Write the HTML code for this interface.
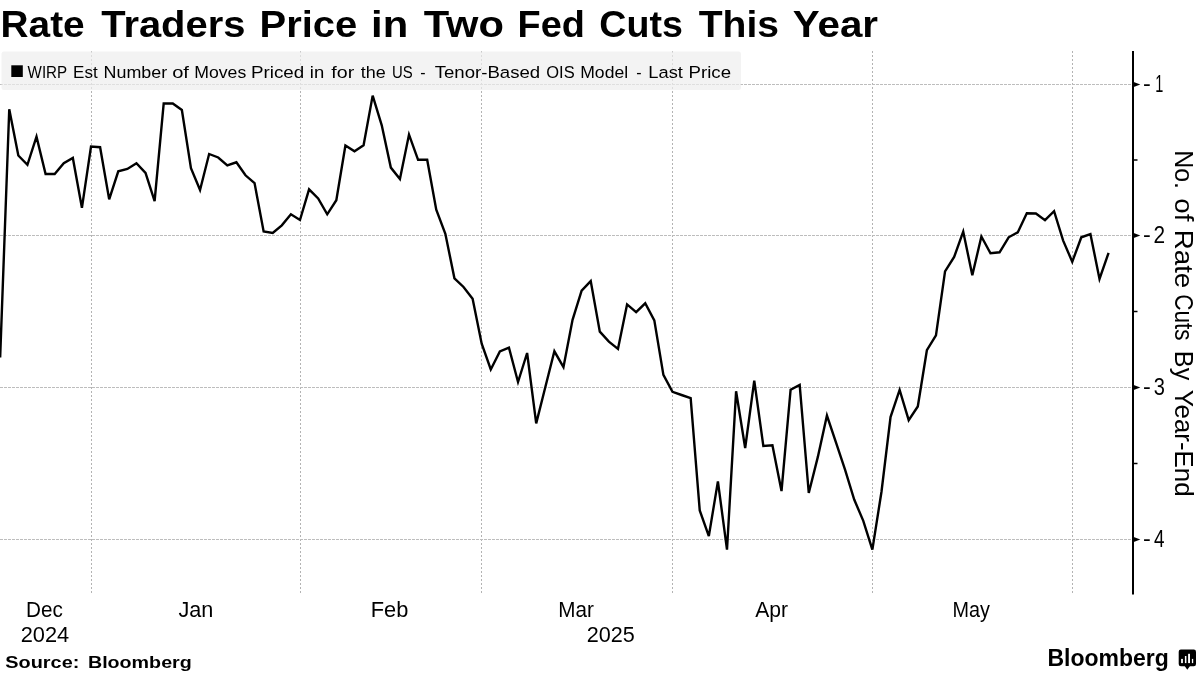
<!DOCTYPE html>
<html><head><meta charset="utf-8"><style>
html,body{margin:0;padding:0;background:#fff;}
svg{display:block;font-family:"Liberation Sans", sans-serif;fill:#000;will-change:transform;}
</style></head><body>
<svg width="1200" height="675" viewBox="0 0 1200 675">
<line x1="91.5" y1="51" x2="91.5" y2="594" stroke="#b3b3b3" stroke-width="1" stroke-dasharray="2,2"/>
<line x1="300.5" y1="51" x2="300.5" y2="594" stroke="#b3b3b3" stroke-width="1" stroke-dasharray="2,2"/>
<line x1="481.5" y1="51" x2="481.5" y2="594" stroke="#b3b3b3" stroke-width="1" stroke-dasharray="2,2"/>
<line x1="672.5" y1="51" x2="672.5" y2="594" stroke="#b3b3b3" stroke-width="1" stroke-dasharray="2,2"/>
<line x1="872.5" y1="51" x2="872.5" y2="594" stroke="#b3b3b3" stroke-width="1" stroke-dasharray="2,2"/>
<line x1="1072.5" y1="51" x2="1072.5" y2="594" stroke="#b3b3b3" stroke-width="1" stroke-dasharray="2,2"/>
<line x1="0" y1="84.5" x2="1132" y2="84.5" stroke="#bdbdbd" stroke-width="1" stroke-dasharray="3,1"/>
<line x1="0" y1="235.5" x2="1132" y2="235.5" stroke="#bdbdbd" stroke-width="1" stroke-dasharray="3,1"/>
<line x1="0" y1="387.5" x2="1132" y2="387.5" stroke="#bdbdbd" stroke-width="1" stroke-dasharray="3,1"/>
<line x1="0" y1="539.5" x2="1132" y2="539.5" stroke="#bdbdbd" stroke-width="1" stroke-dasharray="3,1"/>
<rect x="1.5" y="51.5" width="739.5" height="38.5" rx="2.5" fill="#eee" fill-opacity="0.7"/>
<line x1="1133" y1="51" x2="1133" y2="594.5" stroke="#000" stroke-width="2"/>
<path d="M1133 81.8 L1140.3 84.5 L1133 87.2 Z" fill="#000"/>
<path d="M1133 232.8 L1140.3 235.5 L1133 238.2 Z" fill="#000"/>
<path d="M1133 384.8 L1140.3 387.5 L1133 390.2 Z" fill="#000"/>
<path d="M1133 536.8 L1140.3 539.5 L1133 542.2 Z" fill="#000"/>
<line x1="1133" y1="160.0" x2="1137.5" y2="160.0" stroke="#000" stroke-width="1.5"/>
<line x1="1133" y1="311.5" x2="1137.5" y2="311.5" stroke="#000" stroke-width="1.5"/>
<line x1="1133" y1="463.5" x2="1137.5" y2="463.5" stroke="#000" stroke-width="1.5"/>
<text x="1143.09" y="90.9" font-size="22" textLength="7.79" lengthAdjust="spacingAndGlyphs">-</text>
<text x="1155.24" y="91.7" font-size="23.2" textLength="8.05" lengthAdjust="spacingAndGlyphs">1</text>
<text x="1143.09" y="241.9" font-size="22" textLength="7.79" lengthAdjust="spacingAndGlyphs">-</text>
<text x="1153.51" y="242.7" font-size="23.2" textLength="11.58" lengthAdjust="spacingAndGlyphs">2</text>
<text x="1143.09" y="393.9" font-size="22" textLength="7.79" lengthAdjust="spacingAndGlyphs">-</text>
<text x="1153.81" y="394.7" font-size="23.2" textLength="11.16" lengthAdjust="spacingAndGlyphs">3</text>
<text x="1143.09" y="545.9" font-size="22" textLength="7.79" lengthAdjust="spacingAndGlyphs">-</text>
<text x="1154.09" y="546.7" font-size="23.2" textLength="10.50" lengthAdjust="spacingAndGlyphs">4</text>
<text transform="translate(1174.6,150.15) rotate(90)" font-size="26.5" textLength="38.91" lengthAdjust="spacingAndGlyphs">No.</text>
<text transform="translate(1174.6,198.34) rotate(90)" font-size="26.5" textLength="22.97" lengthAdjust="spacingAndGlyphs">of</text>
<text transform="translate(1174.6,229.63) rotate(90)" font-size="26.5" textLength="58.70" lengthAdjust="spacingAndGlyphs">Rate</text>
<text transform="translate(1174.6,294.15) rotate(90)" font-size="26.5" textLength="46.26" lengthAdjust="spacingAndGlyphs">Cuts</text>
<text transform="translate(1174.6,350.83) rotate(90)" font-size="26.5" textLength="29.47" lengthAdjust="spacingAndGlyphs">By</text>
<text transform="translate(1174.6,389.70) rotate(90)" font-size="26.5" textLength="106.86" lengthAdjust="spacingAndGlyphs">Year-End</text>
<polyline points="0.16,357.5 9.25,109.3 18.33,155.5 27.42,164.8 36.50,136.6 45.59,174.0 54.67,174.0 63.76,163.2 72.84,158.0 81.93,207.9 91.01,146.5 100.10,147.2 109.19,199.4 118.27,171.3 127.36,169.0 136.44,163.2 145.53,172.9 154.61,201.2 163.70,103.5 172.78,103.5 181.87,110.0 190.96,168.2 200.04,190.0 209.13,154.0 218.21,157.5 227.30,165.4 236.38,162.3 245.47,175.3 254.55,183.1 263.64,231.5 272.73,233.0 281.81,225.3 290.90,214.3 299.98,220.0 309.07,189.3 318.15,198.4 327.24,214.3 336.32,200.2 345.41,145.5 354.49,151.3 363.58,145.3 372.67,95.6 381.75,125.3 390.84,167.6 399.92,179.0 409.01,134.6 418.09,159.8 427.18,159.8 436.26,209.7 445.35,233.8 454.44,278.3 463.52,287.0 472.61,298.8 481.69,343.7 490.78,369.5 499.86,351.5 508.95,347.7 518.03,382.0 527.12,353.0 536.20,423.4 545.29,387.3 554.38,351.3 563.46,367.2 572.55,319.8 581.63,290.6 590.72,281.1 599.80,331.6 608.89,341.6 617.97,348.9 627.06,304.4 636.14,312.2 645.23,303.3 654.32,320.4 663.40,374.9 672.49,391.8 681.57,395.0 690.66,398.1 699.74,510.4 708.83,536.1 717.91,481.4 727.00,549.7 736.09,391.2 745.17,448.0 754.26,380.7 763.34,446.0 772.43,445.3 781.51,491.1 790.60,389.7 799.68,384.9 808.77,493.0 817.85,456.9 826.94,415.5 836.03,442.6 845.11,469.9 854.20,499.5 863.28,520.9 872.37,549.6 881.45,492.0 890.54,417.1 899.62,389.9 908.71,420.2 917.80,406.5 926.88,350.2 935.97,335.3 945.05,271.4 954.14,257.0 963.22,231.6 972.31,275.2 981.39,236.5 990.48,253.3 999.56,252.3 1008.65,237.3 1017.74,232.4 1026.82,213.3 1035.91,213.5 1044.99,220.2 1054.08,211.2 1063.16,240.6 1072.25,261.8 1081.33,237.3 1090.42,234.0 1099.51,278.9 1108.59,252.8" fill="none" stroke="#000" stroke-width="2.4" stroke-linejoin="miter" stroke-miterlimit="4"/>
<rect x="11.3" y="65.3" width="11.5" height="11.7" fill="#000"/>
<text x="0.57" y="37" font-size="36" font-weight="bold" textLength="84.14" lengthAdjust="spacingAndGlyphs">Rate</text>
<text x="101.25" y="37" font-size="36" font-weight="bold" textLength="144.12" lengthAdjust="spacingAndGlyphs">Traders</text>
<text x="259.50" y="37" font-size="36" font-weight="bold" textLength="97.74" lengthAdjust="spacingAndGlyphs">Price</text>
<text x="371.14" y="37" font-size="36" font-weight="bold" textLength="37.13" lengthAdjust="spacingAndGlyphs">in</text>
<text x="423.75" y="37" font-size="36" font-weight="bold" textLength="80.11" lengthAdjust="spacingAndGlyphs">Two</text>
<text x="517.63" y="37" font-size="36" font-weight="bold" textLength="67.29" lengthAdjust="spacingAndGlyphs">Fed</text>
<text x="599.33" y="37" font-size="36" font-weight="bold" textLength="83.45" lengthAdjust="spacingAndGlyphs">Cuts</text>
<text x="698.75" y="37" font-size="36" font-weight="bold" textLength="80.33" lengthAdjust="spacingAndGlyphs">This</text>
<text x="792.87" y="37" font-size="36" font-weight="bold" textLength="85.20" lengthAdjust="spacingAndGlyphs">Year</text>
<text x="27.60" y="77.6" font-size="16.8" textLength="39.53" lengthAdjust="spacingAndGlyphs">WIRP</text>
<text x="73.08" y="77.6" font-size="16.8" textLength="24.59" lengthAdjust="spacingAndGlyphs">Est</text>
<text x="103.62" y="77.6" font-size="16.8" textLength="63.59" lengthAdjust="spacingAndGlyphs">Number</text>
<text x="172.16" y="77.6" font-size="16.8" textLength="16.80" lengthAdjust="spacingAndGlyphs">of</text>
<text x="194.23" y="77.6" font-size="16.8" textLength="52.00" lengthAdjust="spacingAndGlyphs">Moves</text>
<text x="250.95" y="77.6" font-size="16.8" textLength="53.22" lengthAdjust="spacingAndGlyphs">Priced</text>
<text x="309.79" y="77.6" font-size="16.8" textLength="14.35" lengthAdjust="spacingAndGlyphs">in</text>
<text x="331.37" y="77.6" font-size="16.8" textLength="22.86" lengthAdjust="spacingAndGlyphs">for</text>
<text x="360.79" y="77.6" font-size="16.8" textLength="25.01" lengthAdjust="spacingAndGlyphs">the</text>
<text x="391.94" y="77.6" font-size="16.8" textLength="20.69" lengthAdjust="spacingAndGlyphs">US</text>
<text x="420.33" y="77.6" font-size="16.8" textLength="5.33" lengthAdjust="spacingAndGlyphs">-</text>
<text x="434.67" y="77.6" font-size="16.8" textLength="105.49" lengthAdjust="spacingAndGlyphs">Tenor-Based</text>
<text x="546.31" y="77.6" font-size="16.8" textLength="28.38" lengthAdjust="spacingAndGlyphs">OIS</text>
<text x="580.24" y="77.6" font-size="16.8" textLength="47.84" lengthAdjust="spacingAndGlyphs">Model</text>
<text x="636.33" y="77.6" font-size="16.8" textLength="5.33" lengthAdjust="spacingAndGlyphs">-</text>
<text x="648.38" y="77.6" font-size="16.8" textLength="34.59" lengthAdjust="spacingAndGlyphs">Last</text>
<text x="688.56" y="77.6" font-size="16.8" textLength="42.47" lengthAdjust="spacingAndGlyphs">Price</text>
<text x="5.33" y="667.6" font-size="17" font-weight="bold" textLength="73.99" lengthAdjust="spacingAndGlyphs">Source:</text>
<text x="87.93" y="667.6" font-size="17" font-weight="bold" textLength="103.83" lengthAdjust="spacingAndGlyphs">Bloomberg</text>
<text x="1047.47" y="666" font-size="24" font-weight="bold" textLength="121.33" lengthAdjust="spacingAndGlyphs">Bloomberg</text>
<text x="26.07" y="616.8" font-size="21.5" textLength="36.76" lengthAdjust="spacingAndGlyphs">Dec</text>
<text x="20.69" y="641.9" font-size="21.5" textLength="48.48" lengthAdjust="spacingAndGlyphs">2024</text>
<text x="178.45" y="616.8" font-size="21.5" textLength="34.92" lengthAdjust="spacingAndGlyphs">Jan</text>
<text x="370.77" y="616.8" font-size="21.5" textLength="37.60" lengthAdjust="spacingAndGlyphs">Feb</text>
<text x="558.37" y="616.8" font-size="21.5" textLength="35.58" lengthAdjust="spacingAndGlyphs">Mar</text>
<text x="586.80" y="641.9" font-size="21.5" textLength="48.07" lengthAdjust="spacingAndGlyphs">2025</text>
<text x="755.20" y="616.8" font-size="21.5" textLength="32.85" lengthAdjust="spacingAndGlyphs">Apr</text>
<text x="952.43" y="616.8" font-size="21.5" textLength="37.42" lengthAdjust="spacingAndGlyphs">May</text>
<rect x="1178.7" y="649.6" width="17.3" height="16.6" rx="2.2" fill="#000"/>
<path d="M1184.7 666 L1187.3 669.8 L1190 666 Z" fill="#000"/>
<rect x="1181.1" y="658.9" width="1.8" height="4.2" fill="#fff"/>
<rect x="1184.9" y="656" width="1.5" height="7.1" fill="#fff"/>
<rect x="1188.1" y="653.8" width="1.9" height="9.3" fill="#fff"/>
<rect x="1191.9" y="658.9" width="1.3" height="4.2" fill="#fff"/>
</svg>
</body></html>
